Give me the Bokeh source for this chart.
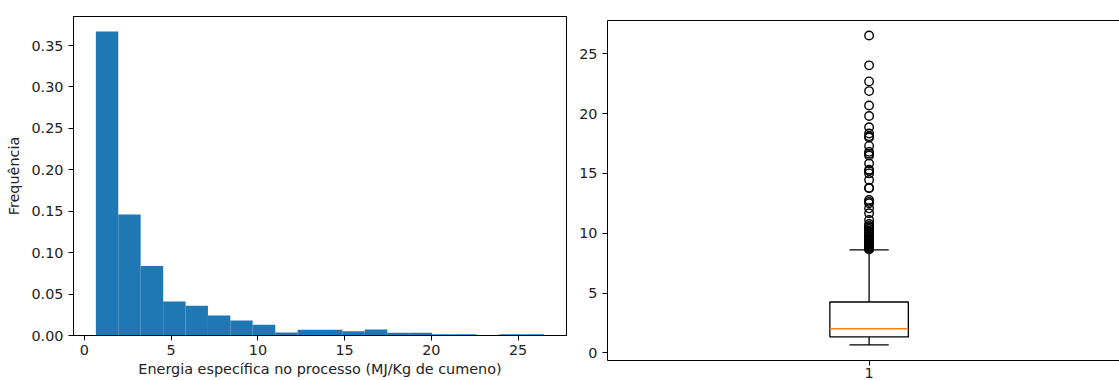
from bokeh.plotting import figure
from bokeh.layouts import row, column
from bokeh.models import FixedTicker, PrintfTickFormatter, LinearAxis, Range1d
from bokeh.embed import file_html
from bokeh.resources import INLINE

# ---------------- data ----------------
bin_edges = [0.66, 1.95, 3.24, 4.54, 5.83, 7.12, 8.41, 9.70, 11.00, 12.29, 13.58,
             14.87, 16.16, 17.46, 18.75, 20.04, 21.33, 22.62, 23.92, 25.21, 26.50]
density = [0.367, 0.146, 0.084, 0.041, 0.036, 0.024, 0.018, 0.013, 0.0036, 0.0069,
           0.0069, 0.0052, 0.0072, 0.0033, 0.0033, 0.0016, 0.0016, 0.0, 0.0016, 0.0016]
hist_xticks = [0, 5, 10, 15, 20, 25]
hist_yticks = [0.0, 0.05, 0.10, 0.15, 0.20, 0.25, 0.30, 0.35]
hist_xlabel = "Energia específica no processo (MJ/Kg de cumeno)"
hist_ylabel = "Frequência"

box_position = 1
box_q1 = 1.33
box_median = 2.02
box_q3 = 4.25
whisker_low = 0.66
whisker_high = 8.6
outliers = [26.53, 24.03, 22.69, 21.88, 20.67, 19.8, 18.86, 18.33, 18.1, 18.0, 17.3,
            16.8, 16.65, 16.5, 15.83, 15.3, 15.2, 15.0, 14.44, 13.8, 13.75, 12.78,
            12.62, 12.5, 12.08, 11.67, 11.1, 10.77, 10.6, 10.5, 10.35, 10.2, 10.1,
            10.0, 9.9, 9.78, 9.7, 9.58, 9.5, 9.45, 9.38, 9.3, 9.22, 9.15, 9.1,
            9.05, 9.0, 8.95, 8.9, 8.88, 8.83, 8.8, 8.78, 8.75, 8.72, 8.7, 8.68, 8.66]
box_yticks = [0, 5, 10, 15, 20, 25]
box_tick_label = {1: "1"}

FONT = "DejaVu Sans"
FS = "14.4px"
TXT = "#222222"
BLUE = "#1f77b4"
ORANGE = "#ff7f0e"


def style_axis(ax):
    ax.axis_line_color = "black"
    ax.axis_line_width = 1
    ax.major_tick_line_color = "black"
    ax.major_tick_line_width = 1
    ax.major_tick_out = 5
    ax.major_tick_in = 0
    ax.minor_tick_line_color = None
    ax.major_label_text_font = FONT
    ax.major_label_text_font_size = FS
    ax.major_label_text_color = TXT
    ax.major_label_standoff = 5
    ax.axis_label_text_font = FONT
    ax.axis_label_text_font_size = FS
    ax.axis_label_text_font_style = "normal"
    ax.axis_label_text_color = TXT


# ---------------- histogram ----------------
p1 = figure(width=570, height=380, x_range=Range1d(-0.63, 27.79), y_range=Range1d(0, 0.385),
            output_backend="svg", toolbar_location=None, title=None,
            min_border_left=73, min_border_right=4, min_border_top=16, min_border_bottom=45)
p1.quad(left=bin_edges[:-1], right=bin_edges[1:], bottom=0, top=density,
        fill_color=BLUE, line_color=None)
p1.xgrid.visible = False
p1.ygrid.visible = False
p1.outline_line_color = "black"
p1.outline_line_width = 1
p1.outline_line_alpha = 1
for ax in (p1.xaxis[0], p1.yaxis[0]):
    style_axis(ax)
p1.xaxis.ticker = FixedTicker(ticks=hist_xticks)
p1.yaxis.ticker = FixedTicker(ticks=hist_yticks)
p1.yaxis.formatter = PrintfTickFormatter(format="%.2f")
p1.xaxis.axis_label = hist_xlabel
p1.yaxis.axis_label = hist_ylabel
p1.xaxis.axis_label_standoff = 3
p1.xaxis.major_label_standoff = 4
p1.yaxis.axis_label_standoff = 6

# ---------------- boxplot ----------------
p2 = figure(width=549, height=380, x_range=Range1d(0.5, 1.4786), y_range=Range1d(-0.64, 27.78),
            output_backend="svg", toolbar_location=None, title=None,
            min_border_left=37, min_border_right=0, min_border_top=20, min_border_bottom=19)
p2.xgrid.visible = False
p2.ygrid.visible = False
p2.outline_line_color = None

bw = 0.15
p2.quad(left=[box_position - bw / 2], right=[box_position + bw / 2],
        bottom=[box_q1], top=[box_q3], fill_color=None, line_color="black", line_width=1.3)
p2.segment(x0=[box_position - bw / 2], x1=[box_position + bw / 2],
           y0=[box_median], y1=[box_median], line_color=ORANGE, line_width=1.5)
p2.segment(x0=[box_position, box_position], x1=[box_position, box_position],
           y0=[box_q3, box_q1], y1=[whisker_high, whisker_low], line_color="black", line_width=1.3)
p2.segment(x0=[box_position - bw / 4, box_position - bw / 4],
           x1=[box_position + bw / 4, box_position + bw / 4],
           y0=[whisker_high, whisker_low], y1=[whisker_high, whisker_low],
           line_color="black", line_width=1.3)
p2.scatter(x=[box_position] * len(outliers), y=outliers, size=8.5, marker="circle",
           fill_color=None, line_color="black", line_width=1.4)

for ax in (p2.xaxis[0], p2.yaxis[0]):
    style_axis(ax)
p2.yaxis.ticker = FixedTicker(ticks=box_yticks)
p2.xaxis.ticker = FixedTicker(ticks=list(box_tick_label.keys()))
p2.xaxis.major_label_overrides = box_tick_label
p2.xaxis.major_label_standoff = 2

top_axis = LinearAxis(ticker=FixedTicker(ticks=[]), axis_line_color="black", axis_line_width=1,
                      major_tick_line_color=None, minor_tick_line_color=None,
                      major_label_standoff=0)
p2.add_layout(top_axis, "above")

layout = row(column(p1), column(p2))
open("out.html", "w").write(file_html(layout, INLINE))
